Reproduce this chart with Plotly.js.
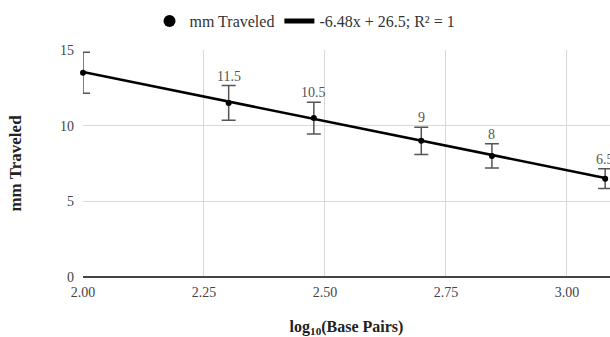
<!DOCTYPE html>
<html>
<head>
<meta charset="utf-8">
<script src="https://cdn.plot.ly/plotly-3.0.1.min.js"></script>
<style>html,body{margin:0;padding:0;background:#fff;}#chart{width:610px;height:337px;}</style>
</head>
<body>
<div id="chart"></div>
<script>
// Data
var logBasePairs = [2.000, 2.301, 2.477, 2.699, 2.845, 3.079];
var mmTraveled   = [13.5, 11.5, 10.5, 9, 8, 6.5];
var dataLabels   = ['13.5', '11.5', '10.5', '9', '8', '6.5'];
var errorPercent = 10;
var trendSlope = -6.48;
var trendIntercept = 26.5;
var trendName = '-6.48x + 26.5; R² = 1';
var seriesName = 'mm Traveled';
var xTickVals = [2.00, 2.25, 2.50, 2.75, 3.00];
var xTickText = ['2.00', '2.25', '2.50', '2.75', '3.00'];
var yTickVals = [0, 5, 10, 15];

var serif = 'Georgia, "Liberation Serif", serif';
var trendX = [logBasePairs[0], logBasePairs[logBasePairs.length - 1]];
var trendY = trendX.map(function (x) { return trendSlope * x + trendIntercept; });

var traces = [
  {
    x: logBasePairs, y: mmTraveled, name: seriesName,
    type: 'scatter', mode: 'markers',
    marker: {color: '#000', size: 6},
    error_y: {type: 'percent', value: errorPercent, color: '#555', thickness: 1.5, width: 7},
    cliponaxis: false
  },
  {
    x: trendX, y: trendY, name: trendName,
    type: 'scatter', mode: 'lines',
    line: {color: '#000', width: 2.5},
    hoverinfo: 'skip'
  }
];

// Labels above error bars (the first one falls outside the plot in the original and is not shown)
var annotations = [];
for (var i = 1; i < logBasePairs.length; i++) {
  annotations.push({
    x: logBasePairs[i], y: mmTraveled[i] * (1 + errorPercent / 100),
    text: dataLabels[i], showarrow: false, yanchor: 'bottom', xanchor: 'center', yshift: 0,
    font: {family: serif, size: 14, color: '#555'}
  });
}

var layout = {
  width: 610, height: 337,
  margin: {l: 83, r: 0, t: 50, b: 60},
  paper_bgcolor: '#fff', plot_bgcolor: '#fff',
  showlegend: true,
  legend: {
    orientation: 'h', xref: 'container', yref: 'container',
    x: 0.5, xanchor: 'center', y: 1 - 21 / 337, yanchor: 'middle',
    font: {family: serif, size: 16, color: '#333'},
    itemsizing: 'constant', traceorder: 'normal'
  },
  xaxis: {
    range: [2, 3.089], tickvals: xTickVals, ticktext: xTickText,
    showgrid: true, gridcolor: '#d9d9d9', gridwidth: 1,
    zeroline: false, showline: false, ticks: '', ticklabelstandoff: 5,
    tickfont: {family: serif, size: 14, color: '#444'},
    title: {text: '<b>log<sub>10</sub>(Base Pairs)</b>', font: {family: serif, size: 16, color: '#222'}, standoff: 22},
    automargin: false
  },
  yaxis: {
    range: [0, 15], tickvals: yTickVals,
    showgrid: true, gridcolor: '#d9d9d9', gridwidth: 1,
    zeroline: true, zerolinecolor: '#444', zerolinewidth: 1.5,
    showline: false, ticks: '', ticklabelstandoff: 8,
    tickfont: {family: serif, size: 14, color: '#444'},
    title: {text: '<b>mm Traveled</b>', font: {family: serif, size: 17, color: '#222'}, standoff: 34},
    automargin: false
  },
  annotations: annotations
};

Plotly.newPlot('chart', traces, layout, {displayModeBar: false, staticPlot: true});
</script>
</body>
</html>
